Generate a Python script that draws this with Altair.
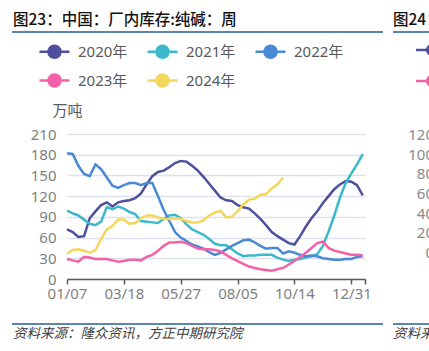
import altair as alt
import pandas as pd

years = ["2020年", "2021年", "2022年", "2023年", "2024年"]
colors = ["#4e4f9d", "#3db8cb", "#4a89d4", "#f561a9", "#f4d65a"]
tick_weeks = [0, 10, 20, 30, 40, 50]
tick_labels = ["01/07", "03/18", "05/27", "08/05", "10/14", "12/31"]
y_ticks = [0, 30, 60, 90, 120, 150, 180, 210]

s2020 = [72, 68, 61, 62, 88, 98, 107, 111, 105, 111, 113, 114, 117, 124, 137, 149, 155, 157,
         162, 168, 171, 170, 164, 157, 148, 138, 128, 118, 114, 113, 107, 104, 102, 95, 87, 78,
         68, 62, 57, 52, 50, 62, 76, 88, 98, 110, 120, 130, 137, 142, 141, 136, 121]
s2021 = [99, 95, 92, 86, 80, 78, 83, 104, 101, 105, 102, 97, 94, 84, 83, 82, 81, 87, 92, 93,
         88, 79, 72, 68, 64, 58, 51, 49, 49, 43, 37, 33, 34, 34, 35, 35, 35, 31, 28, 26, 28, 29,
         31, 33, 36, 48, 69, 92, 118, 139, 153, 166, 181]
s2022 = [182, 181, 164, 152, 149, 166, 159, 147, 135, 132, 136, 139, 139, 136, 139, 139, 120,
         100, 84, 68, 60, 55, 50, 47, 44, 39, 35, 38, 43, 48, 52, 56, 57, 53, 48, 44, 45, 45, 37,
         40, 38, 35, 33, 34, 33, 30, 29, 28, 28, 29, 29, 32, 33]
s2023 = [29, 27, 25, 32, 31, 29, 29, 29, 27, 25, 26, 28, 28, 27, 32, 35, 41, 48, 53, 53, 54, 52,
         48, 44, 43, 43, 42, 40, 35, 30, 26, 22, 18, 16, 14, 13, 12, 14, 16, 21, 26, 32, 38, 45,
         52, 54, 45, 41, 39, 37, 35, 35, 34]
s2024 = [37, 42, 43, 41, 38, 42, 58, 72, 77, 86, 86, 80, 81, 88, 92, 92, 89, 87, 87, 88, 87, 84,
         82, 82, 85, 92, 96, 99, 89, 90, 98, 108, 115, 116, 122, 123, 131, 137, 147]

title_text = "图23：中国：厂内库存:纯碱：周"
source_text = "资料来源：隆众资讯，方正中期研究院"
unit_text = "万吨"
neighbor_title = "图24："
neighbor_source = "资料来"
neighbor_ticks = [120, 100, 80, 60, 40, 20, 0]

series = [s2020, s2021, s2022, s2023, s2024]
df = pd.DataFrame(
    [{"week": i, "year": y, "value": v} for y, s in zip(years, series) for i, v in enumerate(s)]
)

W, H = 298, 145
X_MAX = 52.4
CJK = "'Noto Sans CJK SC'"
LAT = "'Noto Sans', 'Noto Sans CJK SC'"
ACCENT = "#245f94"

label_expr = " : ".join(
    f"datum.value == {w} ? '{l}'" for w, l in zip(tick_weeks, tick_labels)
) + " : ''"

legend_path = "M-1,0H1M-0.4,0A0.4,0.4,0,1,1,0.4,0A0.4,0.4,0,1,1,-0.4,0Z"


def make_legend():
    return alt.Legend(
        title=None, orient="none", legendX=-29, legendY=-99, columns=3,
        direction="horizontal",
        symbolType=legend_path, symbolSize=900, symbolStrokeWidth=2.5,
        labelFont=LAT, labelFontSize=15, labelColor="#595959", labelOffset=7,
        columnPadding=14, rowPadding=1,
    )


color_scale = alt.Scale(domain=years, range=colors)
x_scale = alt.Scale(domain=[0, X_MAX], nice=False, zero=False)
y_scale = alt.Scale(domain=[0, 210], nice=False, zero=True)

base = alt.Chart(df)
lines = base.mark_line(strokeWidth=2.5).encode(
    x=alt.X("week:Q", scale=x_scale, axis=alt.Axis(
        values=tick_weeks + [X_MAX], tickCount=20, labelExpr=label_expr, title=None,
        grid=False, domainColor="#595959", domainWidth=1.5, tickColor="#595959",
        tickWidth=1.5, tickSize=5, labelFont=LAT, labelFontSize=15, labelColor="#7f7f7f",
        labelPadding=2, labelFlush=False, labelOverlap=False)),
    y=alt.Y("value:Q", scale=y_scale, axis=alt.Axis(
        values=y_ticks, tickCount=20, title=unit_text, titleAngle=0, titleX=0, titleY=-24,
        titleAlign="center", titleBaseline="middle", titleFont=CJK, titleFontSize=15,
        titleFontWeight="normal", titleColor="#595959", domain=False, ticks=False,
        grid=True, gridColor="#dde1ee", gridWidth=1.5, labelFont=LAT, labelFontSize=15,
        labelColor="#7f7f7f", labelPadding=11, labelOverlap=False, labelFlush=False)),
    stroke=alt.Stroke("year:N", scale=color_scale, legend=make_legend()),
)
pts = base.transform_filter("false").mark_point(filled=True, opacity=1).encode(
    x=alt.X("week:Q", scale=x_scale),
    y=alt.Y("value:Q", scale=y_scale),
    fill=alt.Fill("year:N", scale=color_scale, legend=make_legend()),
)
main = alt.layer(lines, pts)

one = pd.DataFrame({"k": [0]})


def text_layer(s, x, y, **kw):
    return alt.Chart(pd.DataFrame({"t": [s]})).mark_text(
        align="left", baseline="middle", **kw
    ).encode(x=alt.value(x), y=alt.value(y), text="t:N")


def rule_layer(x1, x2, y):
    return alt.Chart(one).mark_rule(color=ACCENT, strokeWidth=1.5).encode(
        x=alt.value(x1), x2=alt.value(x2), y=alt.value(y))


title = text_layer(title_text, -54, -114, font=CJK, fontSize=15.5, fontWeight=500,
                   color="#111111")
source = text_layer(source_text, -54, 200, font=CJK, fontSize=13.5, fontStyle="italic",
                    color="#404040")
n_title = text_layer(neighbor_title, 326, -114, font=CJK, fontSize=15.5, fontWeight=500,
                     color="#111111")
n_source = text_layer(neighbor_source, 326, 200, font=CJK, fontSize=13.5, fontStyle="italic",
                      color="#404040")
rules = [rule_layer(-55, 316, -102), rule_layer(326, 370, -102),
         rule_layer(-55, 316, 190), rule_layer(326, 370, 190)]

n_ticks = alt.Chart(pd.DataFrame({"v": neighbor_ticks})).mark_text(
    align="right", baseline="middle", font=LAT, fontSize=15, color="#8a8a8a"
).encode(
    x=alt.value(367),
    y=alt.Y("v:Q", scale=alt.Scale(domain=[-26.4, 121], nice=False, zero=False), axis=None),
    text="v:Q",
)

n_leg = []
for c, yy in [(colors[0], -84), (colors[3], -53)]:
    n_leg.append(alt.Chart(one).mark_rule(color=c, strokeWidth=2.5).encode(
        x=alt.value(349), x2=alt.value(380), y=alt.value(yy)))
    n_leg.append(alt.Chart(one).mark_point(filled=True, color=c, size=150, opacity=1).encode(
        x=alt.value(365), y=alt.value(yy)))

chart = alt.layer(main, title, source, n_title, n_source, *rules, n_ticks, *n_leg).resolve_scale(
    y="independent"
).properties(
    width=W, height=H,
    autosize=alt.AutoSizeParams(type="none"),
    padding={"left": 67, "top": 134, "right": 64, "bottom": 72},
    background="white",
).configure_view(stroke=None)

chart.save("out.html", embed_options={"renderer": "svg", "actions": False})
